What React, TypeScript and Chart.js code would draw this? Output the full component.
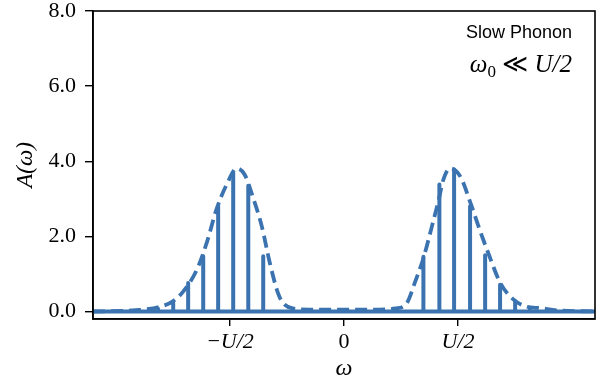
import React, { useEffect, useRef } from "react";
import { Chart, registerables } from "chart.js";

Chart.register(...registerables);

// x measured in units of U/2
const X_MIN = -2.2;
const X_MAX = 2.2;
const Y_MIN = -0.2;
const Y_MAX = 8.0;

const spikeX = [-1.63, -1.497, -1.366, -1.234, -1.103, -0.971, -0.839, -0.708, 0.696, 0.836, 0.965, 1.105, 1.237, 1.368, 1.5, 1.63];
const spikeH = [0.07, 0.22, 0.76, 1.47, 2.8, 3.69, 3.35, 1.47, 1.46, 3.38, 3.78, 2.8, 1.5, 0.71, 0.27, 0.07];

const envX = [-2.2, -1.9, -1.79, -1.61, -1.5, -1.41, -1.29, -1.2, -1.12, -1.03, -0.94, -0.87, -0.8, -0.72, -0.65, -0.58, -0.54, -0.45, -0.3, 0, 0.3, 0.45, 0.55, 0.62, 0.7, 0.77, 0.83, 0.87, 0.93, 1.02, 1.11, 1.19, 1.27, 1.37, 1.49, 1.6, 1.72, 1.87, 2.2];
const envY = [0.0, 0.02, 0.04, 0.13, 0.27, 0.53, 1.11, 1.86, 2.7, 3.37, 3.81, 3.64, 3.06, 2.26, 1.29, 0.5, 0.25, 0.08, 0.05, 0.05, 0.05, 0.08, 0.22, 0.76, 1.46, 2.26, 2.97, 3.5, 3.81, 3.59, 2.88, 2.17, 1.51, 0.76, 0.31, 0.13, 0.09, 0.03, 0.0];

const xTickValues = [-1, 0, 1];
const xTickLabels = ["\u2212U/2", "0", "U/2"];
const yTickValues = [0, 2, 4, 6, 8];

const BLUE = "#3b73b0";
const SERIF = "'Liberation Serif', 'DejaVu Serif', serif";
const SANS = "'Liberation Sans', Arial, sans-serif";

const framePlugin = {
  id: "frame",
  afterDatasetsDraw(chart: any) {
    const { ctx, chartArea } = chart;
    const { left, top, right, bottom } = chartArea;
    ctx.save();
    ctx.strokeStyle = "#000";
    ctx.lineWidth = 1.6;
    ctx.strokeRect(left, top, right - left, bottom - top);

    const rx = right - 23;
    ctx.fillStyle = "#000";
    ctx.textAlign = "right";
    ctx.textBaseline = "middle";
    ctx.font = `18px ${SANS}`;
    ctx.fillText("Slow Phonon", rx, top + 22);

    // omega_0 << U/2
    const base = top + 61;
    const fBig = `italic 25px ${SERIF}`;
    const fSub = `17px ${SERIF}`;
    const fRel = `25px ${SERIF}`;
    ctx.textAlign = "left";
    ctx.textBaseline = "alphabetic";
    const parts: [string, string, number][] = [
      ["\u03c9", fBig, 0],
      ["0", fSub, 5],
      [" \u226a ", fRel, 0],
      ["U/2", fBig, 0],
    ];
    let total = 0;
    const widths = parts.map(([t, f]) => {
      ctx.font = f;
      const w = ctx.measureText(t).width;
      total += w;
      return w;
    });
    let x = rx - total;
    parts.forEach(([t, f, dy], i) => {
      ctx.font = f;
      ctx.fillText(t, x, base + dy);
      x += widths[i];
    });
    ctx.restore();
  },
};

export default function App() {
  const ref = useRef<HTMLCanvasElement | null>(null);

  useEffect(() => {
    document.body.style.margin = "0";
    if (!ref.current) return;

    const solid: { x: number; y: number }[] = [{ x: X_MIN, y: 0 }];
    spikeX.forEach((x, i) => {
      solid.push({ x, y: 0 }, { x, y: spikeH[i] }, { x, y: 0 });
    });
    solid.push({ x: X_MAX, y: 0 });

    const envelope = envX.map((x, i) => ({ x, y: envY[i] }));

    const chart = new Chart(ref.current, {
      type: "line",
      data: {
        datasets: [
          {
            data: envelope,
            borderColor: BLUE,
            borderWidth: 3.8,
            borderDash: [12, 6],
            pointRadius: 0,
            fill: false,
            cubicInterpolationMode: "monotone",
          },
          {
            data: solid,
            borderColor: BLUE,
            borderWidth: 4,
            pointRadius: 0,
            fill: false,
            tension: 0,
            borderJoinStyle: "round",
            borderCapStyle: "round",
          },
        ],
      },
      plugins: [framePlugin],
      options: {
        animation: false,
        responsive: true,
        maintainAspectRatio: false,
        parsing: false,
        layout: { padding: { top: 11, right: 19, left: 0, bottom: 0 } },
        plugins: { legend: { display: false }, tooltip: { enabled: false } },
        scales: {
          x: {
            type: "linear",
            min: X_MIN,
            max: X_MAX,
            afterBuildTicks: (s: any) => {
              s.ticks = xTickValues.map((v) => ({ value: v }));
            },
            afterFit: (s: any) => {
              s.height = 66;
              s.paddingLeft = 0;
              s.paddingRight = 0;
            },
            ticks: {
              color: "#000",
              padding: 3,
              maxRotation: 0,
              font: (c: any) => ({
                family: SERIF,
                size: 22,
                style: c.tick && c.tick.value === 0 ? "normal" : "italic",
                lineHeight: 1.2,
              }),
              callback: (v: any) => {
                const i = xTickValues.indexOf(Number(v));
                return i >= 0 ? xTickLabels[i] : "";
              },
            },
            grid: { drawOnChartArea: false, drawTicks: true, tickLength: 7, color: "#000", lineWidth: 1.4 },
            border: { display: true, color: "#000", width: 1.6 },
            title: {
              display: true,
              text: "\u03c9",
              color: "#000",
              font: { family: SERIF, size: 24, style: "italic", lineHeight: 1.2 },
              padding: { top: 0, bottom: 2 },
            },
          },
          y: {
            type: "linear",
            min: Y_MIN,
            max: Y_MAX,
            afterBuildTicks: (s: any) => {
              s.ticks = yTickValues.map((v) => ({ value: v }));
            },
            afterFit: (s: any) => {
              s.width = 93;
              s.paddingTop = 0;
              s.paddingBottom = 0;
            },
            ticks: {
              color: "#000",
              padding: 9,
              font: { family: SERIF, size: 22, lineHeight: 1 },
              callback: (v: any) => Number(v).toFixed(1),
            },
            grid: { drawOnChartArea: false, drawTicks: true, tickLength: 8, color: "#000", lineWidth: 1.4 },
            border: { display: true, color: "#000", width: 1.6 },
            title: {
              display: true,
              text: "A(\u03c9)",
              color: "#000",
              font: { family: SERIF, size: 23, style: "italic", lineHeight: 1.2 },
              padding: { top: 12, bottom: 0 },
            },
          },
        },
      },
    } as any);

    return () => chart.destroy();
  }, []);

  return (
    <div style={{ width: 614, height: 385, position: "relative" }}>
      <canvas ref={ref} />
    </div>
  );
}
